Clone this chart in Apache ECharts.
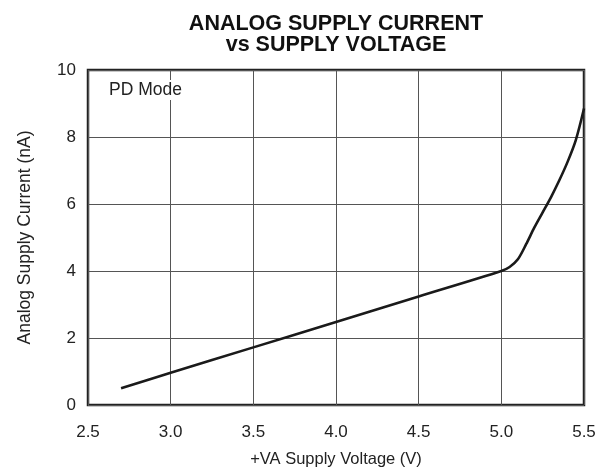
<!DOCTYPE html>
<html>
<head>
<meta charset="utf-8">
<script src="https://cdn.jsdelivr.net/npm/echarts@6/dist/echarts.min.js"></script>
<style>
  html, body { margin: 0; padding: 0; background: #fff; }
  #chart { width: 606px; height: 470px; }
</style>
</head>
<body>
<div id="chart"></div>
<script>
// Supply voltage (V) and analog supply current (nA) in power-down mode
const voltage = [2.7, 3.0, 3.5, 4.0, 4.5, 5.0, 5.05, 5.1, 5.15, 5.2, 5.25, 5.3, 5.35, 5.4, 5.45, 5.5];
const current = [0.5, 0.96, 1.72, 2.48, 3.24, 4.0, 4.12, 4.35, 4.8, 5.3, 5.75, 6.2, 6.7, 7.25, 7.9, 8.85];

const xTicks = [2.5, 3.0, 3.5, 4.0, 4.5, 5.0, 5.5];
const yTicks = [0, 2, 4, 6, 8, 10];

const titleLines = ['ANALOG SUPPLY CURRENT', 'vs SUPPLY VOLTAGE'];

const FONT = 'Liberation Sans, Arial, Helvetica, sans-serif';

const chart = echarts.init(document.getElementById('chart'), null, { renderer: 'canvas' });

const titleStyle = {
  fontFamily: FONT,
  fontWeight: 'bold',
  fontSize: 21.5,
  fill: '#111',
  align: 'center',
  verticalAlign: 'middle'
};

chart.setOption({
  animation: false,
  backgroundColor: '#fff',
  grid: {
    left: 88, right: 22, top: 70, bottom: 65,
    containLabel: false,
    outerBoundsMode: 'none',
    show: true,
    borderColor: '#222',
    borderWidth: 2.5,
    backgroundColor: 'transparent'
  },
  xAxis: {
    type: 'value',
    min: xTicks[0],
    max: xTicks[xTicks.length - 1],
    interval: 0.5,
    name: '+VA Supply Voltage (V)',
    nameLocation: 'middle',
    nameGap: 46,
    nameTextStyle: { fontFamily: FONT, fontSize: 16.5, color: '#222' },
    axisLine: { show: false },
    axisTick: { show: false },
    axisLabel: {
      margin: 19,
      fontFamily: FONT, fontSize: 17, color: '#222',
      formatter: v => v.toFixed(1)
    },
    splitLine: { show: true, lineStyle: { color: '#555', width: 1 } }
  },
  yAxis: {
    type: 'value',
    min: yTicks[0],
    max: yTicks[yTicks.length - 1],
    interval: 2,
    name: 'Analog Supply Current (nA)',
    nameLocation: 'middle',
    nameGap: 54,
    nameTextStyle: { fontFamily: FONT, fontSize: 17.5, color: '#222' },
    axisLine: { show: false },
    axisTick: { show: false },
    axisLabel: {
      margin: 12,
      fontFamily: FONT, fontSize: 17, color: '#222'
    },
    splitLine: { show: true, lineStyle: { color: '#555', width: 1 } }
  },
  graphic: [
    {
      type: 'text', x: 336, y: 24, z: 10,
      style: Object.assign({ text: titleLines[0] }, titleStyle)
    },
    {
      type: 'text', x: 336, y: 45, z: 10,
      style: Object.assign({ text: titleLines[1] }, titleStyle)
    },
    {
      type: 'text',
      left: 107,
      top: 80,
      z: 10,
      style: {
        text: 'PD Mode',
        fontFamily: FONT,
        fontSize: 17.5,
        fill: '#222',
        backgroundColor: '#fff',
        padding: [1, 2]
      }
    }
  ],
  series: [{
    type: 'line',
    data: voltage.map((v, i) => [v, current[i]]),
    smooth: 0.3,
    showSymbol: false,
    lineStyle: { color: '#1a1a1a', width: 2.6 },
    z: 5
  }]
});
</script>
</body>
</html>
